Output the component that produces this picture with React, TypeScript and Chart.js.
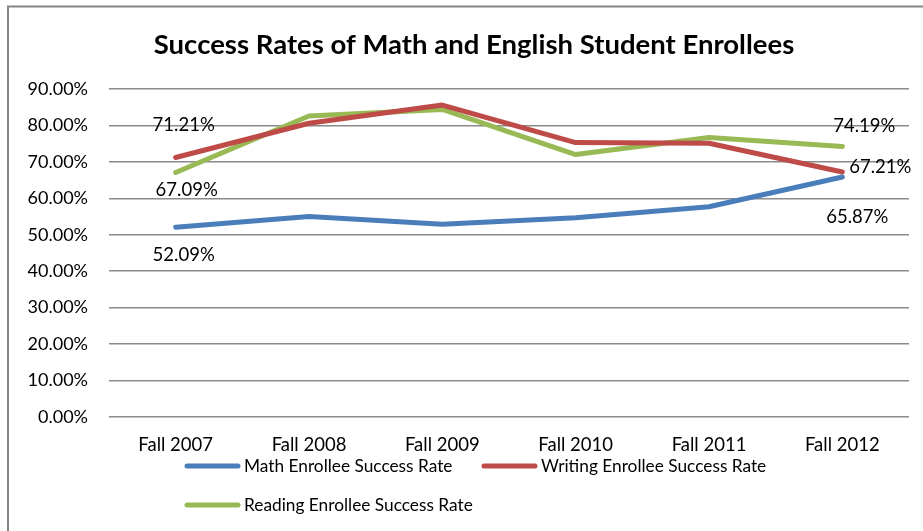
import React, { useEffect, useRef } from "react";
import { Chart, registerables } from "chart.js";

Chart.register(...registerables);

const chartTitle = "Success Rates of Math and English Student Enrollees";
const categories = ["Fall 2007", "Fall 2008", "Fall 2009", "Fall 2010", "Fall 2011", "Fall 2012"];
const seriesNames = ["Math Enrollee Success Rate", "Writing Enrollee Success Rate", "Reading Enrollee Success Rate"];
const mathRates = [52.09, 55.0, 52.9, 54.7, 57.7, 65.87];
const writingRates = [71.21, 80.6, 85.6, 75.3, 75.1, 67.21];
const readingRates = [67.09, 82.6, 84.4, 72.0, 76.7, 74.19];
const yMin = 0;
const yMax = 90;
const yStep = 10;

const FONT = "Lato, 'Open Sans', sans-serif";
const colors = ["#4A7EBB", "#BE4B48", "#98B954"];

// data label placement (dataset index, point index, offset from point)
const labelSpots = [
  { ds: 1, i: 0, dx: 8, dy: -32 },
  { ds: 2, i: 0, dx: 11, dy: 18 },
  { ds: 0, i: 0, dx: 8, dy: 28 },
  { ds: 2, i: 5, dx: 22, dy: -21 },
  { ds: 1, i: 5, dx: 38, dy: -5 },
  { ds: 0, i: 5, dx: 15, dy: 40 },
];

const legendSpots = [
  { x: 185, y: 466 },
  { x: 482, y: 466 },
  { x: 185, y: 505 },
];

const decorPlugin = {
  id: "decor",
  beforeDraw(chart: any) {
    const ctx = chart.ctx;
    ctx.save();
    ctx.fillStyle = "#ffffff";
    ctx.fillRect(0, 0, chart.width, chart.height);
    ctx.strokeStyle = "#868686";
    ctx.lineWidth = 2;
    ctx.beginPath();
    ctx.moveTo(8, chart.height);
    ctx.lineTo(8, 6.5);
    ctx.lineTo(chart.width, 6.5);
    ctx.stroke();
    // title
    ctx.fillStyle = "#000000";
    ctx.font = `bold 27.5px ${FONT}`;
    ctx.textAlign = "center";
    ctx.textBaseline = "middle";
    ctx.fillText(chartTitle, 474, 45);
    ctx.restore();
  },
  afterDatasetsDraw(chart: any) {
    const ctx = chart.ctx;
    ctx.save();
    ctx.fillStyle = "#000000";
    ctx.font = `18.5px ${FONT}`;
    ctx.textAlign = "center";
    ctx.textBaseline = "middle";
    labelSpots.forEach((s) => {
      const meta = chart.getDatasetMeta(s.ds);
      const pt = meta.data[s.i];
      const v = chart.data.datasets[s.ds].data[s.i] as number;
      ctx.fillText(v.toFixed(2) + "%", pt.x + s.dx, pt.y + s.dy);
    });
    ctx.restore();
  },
  afterDraw(chart: any) {
    const ctx = chart.ctx;
    ctx.save();
    chart.data.datasets.forEach((ds: any, k: number) => {
      const p = legendSpots[k];
      ctx.strokeStyle = ds.borderColor;
      ctx.lineWidth = 5;
      ctx.lineCap = "round";
      ctx.beginPath();
      ctx.moveTo(p.x + 2, p.y);
      ctx.lineTo(p.x + 53, p.y);
      ctx.stroke();
      ctx.fillStyle = "#000000";
      ctx.font = `17.3px ${FONT}`;
      ctx.textAlign = "left";
      ctx.textBaseline = "middle";
      ctx.fillText(ds.label, p.x + 59, p.y);
    });
    ctx.restore();
  },
};

export default function App() {
  const ref = useRef<HTMLCanvasElement | null>(null);
  useEffect(() => {
    if (!ref.current) return;
    const seriesData = [mathRates, writingRates, readingRates];
    const chart = new Chart(ref.current, {
      type: "line",
      data: {
        labels: categories,
        datasets: seriesData.map((d, k) => ({
          label: seriesNames[k],
          data: d,
          borderColor: colors[k],
          backgroundColor: colors[k],
          borderWidth: 5,
          pointRadius: 0,
          borderCapStyle: "round",
          borderJoinStyle: "round",
          tension: 0,
          fill: false,
        })),
      },
      options: {
        responsive: false,
        animation: false,
        devicePixelRatio: 1,
        layout: { padding: { top: 89, left: 0, right: 14, bottom: 0 } },
        plugins: {
          legend: { display: false },
          title: { display: false },
          tooltip: { enabled: false },
        },
        scales: {
          x: {
            offset: true,
            grid: { display: false, drawTicks: false },
            border: { display: false },
            ticks: { color: "#000", font: { family: FONT, size: 18.5 }, padding: 17, maxRotation: 0 },
            afterFit: (s: any) => {
              s.height = 114;
            },
          },
          y: {
            min: yMin,
            max: yMax,
            grid: { color: "#8a8a8a", lineWidth: 1.6, drawTicks: false },
            border: { display: false },
            ticks: {
              stepSize: yStep,
              color: "#000",
              font: { family: FONT, size: 18 },
              padding: 21,
              callback: (v: any) => Number(v).toFixed(2) + "%",
            },
            afterFit: (s: any) => {
              s.width = 109;
            },
          },
        },
      },
      plugins: [decorPlugin],
    });
    return () => chart.destroy();
  }, []);
  return (
    <div style={{ position: "absolute", left: 0, top: 0, width: 923, height: 531 }}>
      <canvas ref={ref} width={923} height={531} style={{ width: 923, height: 531, display: "block" }} />
    </div>
  );
}
